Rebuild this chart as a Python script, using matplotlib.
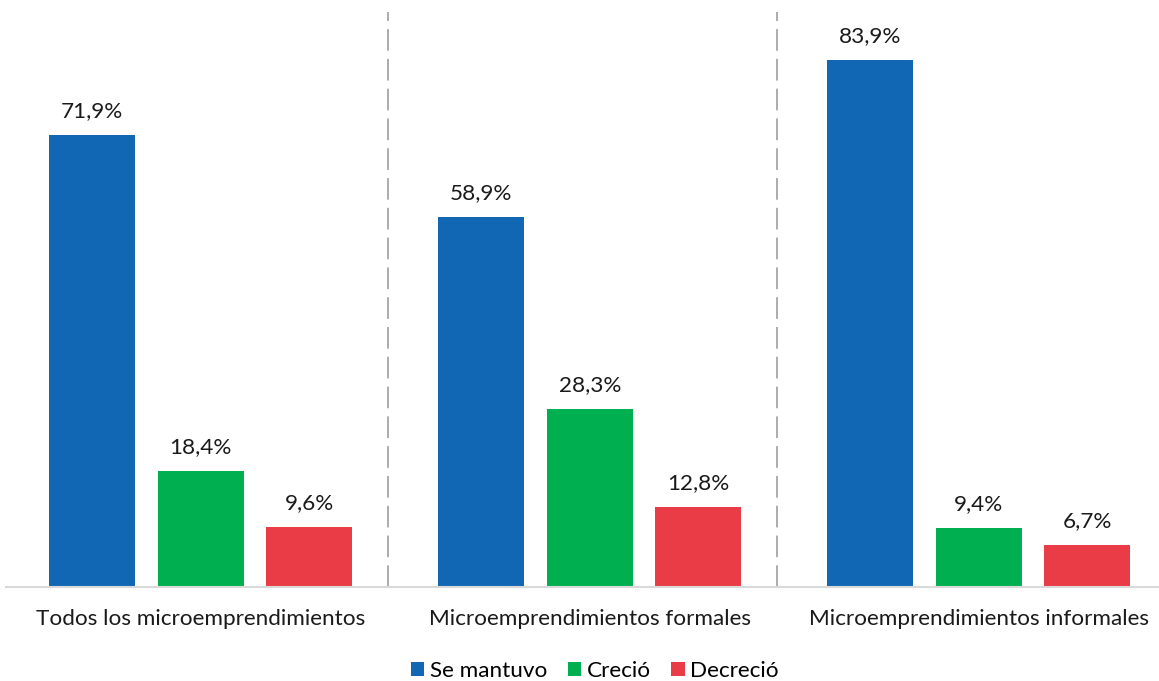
import matplotlib.pyplot as plt
import numpy as np

groups = ['Todos los microemprendimientos', 'Microemprendimientos formales', 'Microemprendimientos informales']
series = ['Se mantuvo', 'Creció', 'Decreció']
se_mantuvo = [71.9, 58.9, 83.9]
crecio = [18.4, 28.3, 9.4]
decrecio = [9.6, 12.8, 6.7]
colors = ['#1167B4', '#00B050', '#EA3C47']

plt.rcParams['font.family'] = ['Lato', 'DejaVu Sans']
fs = 16.2

fig = plt.figure(figsize=(11.59, 6.81), dpi=100)
ax = fig.add_axes([6 / 1159, 1 - 587 / 681, 1 - 6 / 1159, 587 / 681])

x = np.arange(len(groups))
pitch = 0.279
width = 0.221
for j, (name, vals) in enumerate(zip(series, [se_mantuvo, crecio, decrecio])):
    pos = x + (j - 1) * pitch
    ax.bar(pos, vals, width, color=colors[j], label=name, zorder=2)
    for p, v in zip(pos, vals):
        ax.annotate(f'{v:.1f}%'.replace('.', ','), (p, v), xytext=(0, 10),
                    textcoords='offset points', ha='center', va='bottom', fontsize=fs, color='#1a1a1a')

# dashed separators between groups
for s in x[:-1] + 0.481:
    ax.plot([s, s], [0, 91.5], color='#A6A6A6', lw=1.3, ls=(0, (12, 4.5)), zorder=1)

ax.set_xlim(-0.501, 2.463)
ax.set_ylim(0, 93.4)
ax.set_yticks([])
ax.set_xticks(x)
ax.set_xticklabels(groups, fontsize=fs, color='#1a1a1a')
ax.tick_params(axis='x', length=0, pad=16)
for sp in ['top', 'right', 'left']:
    ax.spines[sp].set_visible(False)
ax.spines['bottom'].set_color('#D9D9D9')
ax.spines['bottom'].set_linewidth(1.5)

fig.legend(loc='center', bbox_to_anchor=(595 / 1159, 10 / 681), ncol=3, frameon=False,
           fontsize=fs, handlelength=0.6, handleheight=0.6, handletextpad=0.25, columnspacing=0.9)

fig.savefig('out.png', dpi=100)
